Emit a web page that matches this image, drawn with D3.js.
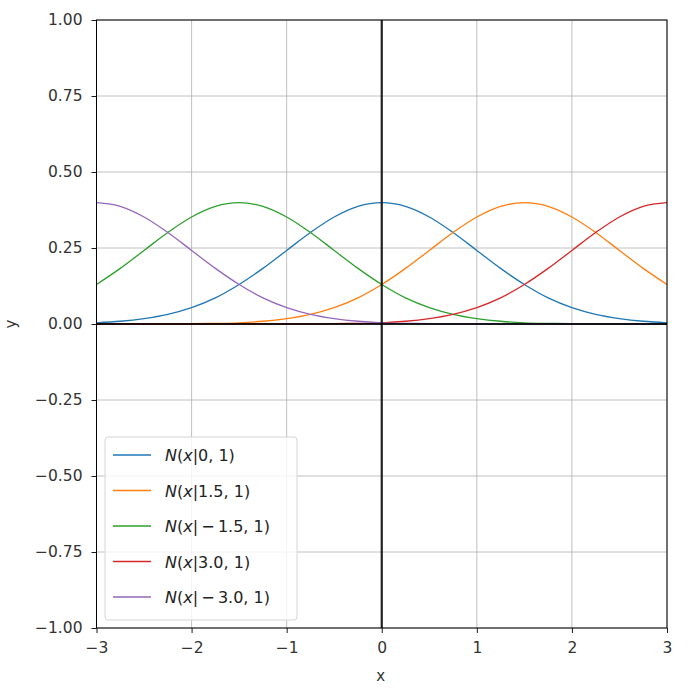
<html>
<head>
<meta charset="utf-8">
<script src="https://cdnjs.cloudflare.com/ajax/libs/d3/7.8.5/d3.min.js"></script>
<style>
  body { margin: 0; background: #fff; }
  text { font-family: "DejaVu Sans", sans-serif; fill: #262626; }
</style>
</head>
<body>
<div id="chart"></div>
<script>
// x positions shared by all curves
var xs = [-3, -2.75, -2.5, -2.25, -2, -1.75, -1.5, -1.25, -1, -0.75, -0.5, -0.25, 0,
          0.25, 0.5, 0.75, 1, 1.25, 1.5, 1.75, 2, 2.25, 2.5, 2.75, 3];

var n0   = [0.004, 0.009, 0.018, 0.032, 0.054, 0.086, 0.130, 0.183, 0.242, 0.301, 0.352, 0.387, 0.399,
            0.387, 0.352, 0.301, 0.242, 0.183, 0.130, 0.086, 0.054, 0.032, 0.018, 0.009, 0.004];
var n15  = [0.000, 0.000, 0.000, 0.000, 0.001, 0.002, 0.004, 0.009, 0.018, 0.032, 0.054, 0.086, 0.130,
            0.183, 0.242, 0.301, 0.352, 0.387, 0.399, 0.387, 0.352, 0.301, 0.242, 0.183, 0.130];
var nm15 = [0.130, 0.183, 0.242, 0.301, 0.352, 0.387, 0.399, 0.387, 0.352, 0.301, 0.242, 0.183, 0.130,
            0.086, 0.054, 0.032, 0.018, 0.009, 0.004, 0.002, 0.001, 0.000, 0.000, 0.000, 0.000];
var n30  = [0.000, 0.000, 0.000, 0.000, 0.000, 0.000, 0.000, 0.000, 0.000, 0.000, 0.001, 0.002, 0.004,
            0.009, 0.018, 0.032, 0.054, 0.086, 0.130, 0.183, 0.242, 0.301, 0.352, 0.387, 0.399];
var nm30 = [0.399, 0.387, 0.352, 0.301, 0.242, 0.183, 0.130, 0.086, 0.054, 0.032, 0.018, 0.009, 0.004,
            0.002, 0.001, 0.000, 0.000, 0.000, 0.000, 0.000, 0.000, 0.000, 0.000, 0.000, 0.000];

var labels = ["|0, 1)", "|1.5, 1)", "|\u2009\u2212\u20091.5, 1)", "|3.0, 1)", "|\u2009\u2212\u20093.0, 1)"];
var colors = ["#1f77b4", "#ff7f0e", "#2ca02c", "#d62728", "#9467bd"];
var series = [n0, n15, nm15, n30, nm30];

var xTicks = [-3, -2, -1, 0, 1, 2, 3];
var yTicks = [-1, -0.75, -0.5, -0.25, 0, 0.25, 0.5, 0.75, 1];

var W = 689, H = 688;
var m = {left: 96.5, top: 20, right: 22, bottom: 60};

var svg = d3.select("#chart").append("svg").attr("width", W).attr("height", H);

var x = d3.scaleLinear().domain([-3, 3]).range([m.left, W - m.right]);
var y = d3.scaleLinear().domain([-1, 1]).range([H - m.bottom, m.top]);

function fmtMinus(s){ return s.replace("-", "\u2212"); }

// grid
svg.append("g").selectAll("line").data(xTicks).enter().append("line")
  .attr("x1", function(d){ return x(d); }).attr("x2", function(d){ return x(d); })
  .attr("y1", y(-1)).attr("y2", y(1))
  .style("stroke", "#b0b0b0").style("stroke-width", 0.8);
svg.append("g").selectAll("line").data(yTicks).enter().append("line")
  .attr("y1", function(d){ return y(d); }).attr("y2", function(d){ return y(d); })
  .attr("x1", x(-3)).attr("x2", x(3))
  .style("stroke", "#b0b0b0").style("stroke-width", 0.8);

// curves
var line = d3.line()
  .x(function(d, i){ return x(xs[i]); })
  .y(function(d){ return y(d); })
  .curve(d3.curveCatmullRom);

svg.append("g").selectAll("path").data(series).enter().append("path")
  .attr("d", line)
  .style("fill", "none")
  .style("stroke", function(d, i){ return colors[i]; })
  .style("stroke-width", 1.3);

// axhline / axvline
svg.append("line").attr("x1", x(-3)).attr("x2", x(3)).attr("y1", y(0)).attr("y2", y(0))
  .style("stroke", "#000").style("stroke-width", 2.2).style("stroke-opacity", 0.85);
svg.append("line").attr("x1", x(0)).attr("x2", x(0)).attr("y1", y(-1)).attr("y2", y(1))
  .style("stroke", "#000").style("stroke-width", 2.2).style("stroke-opacity", 0.85);

// axes
var xAxis = d3.axisBottom(x).tickValues(xTicks).tickSize(5).tickPadding(9)
  .tickFormat(function(d){ return fmtMinus(d3.format("d")(d)); });
var yAxis = d3.axisLeft(y).tickValues(yTicks).tickSize(5).tickPadding(9)
  .tickFormat(function(d){ return fmtMinus(d3.format(".2f")(d)); });

var gx = svg.append("g").attr("transform", "translate(0," + y(-1) + ")").call(xAxis);
var gy = svg.append("g").attr("transform", "translate(" + x(-3) + ",0)").call(yAxis);
[gx, gy].forEach(function(g){
  g.select(".domain").remove();
  g.selectAll("line").style("stroke", "#000").style("stroke-width", 0.9);
  g.selectAll("text").style("font-family", "'DejaVu Sans', sans-serif")
    .style("font-size", "15.5px").style("fill", "#333");
});

// frame
svg.append("rect").attr("x", x(-3)).attr("y", y(1))
  .attr("width", x(3) - x(-3)).attr("height", y(-1) - y(1))
  .style("fill", "none").style("stroke", "#000").style("stroke-width", 1);

// axis labels
svg.append("text").attr("x", x(0) - 1).attr("y", 681).attr("text-anchor", "middle")
  .style("font-size", "15px").style("fill", "#333").text("x");
svg.append("text").attr("transform", "translate(16," + y(0) + ") rotate(-90)")
  .attr("text-anchor", "middle").style("font-size", "15px").style("fill", "#333").text("y");

// legend
var lg = svg.append("g").attr("transform", "translate(105,437)");
lg.append("rect").attr("width", 192).attr("height", 183).attr("rx", 3)
  .style("fill", "#fff").style("fill-opacity", 0.8)
  .style("stroke", "#d5d5d5").style("stroke-width", 1);

var items = lg.selectAll("g.item").data(labels).enter().append("g")
  .attr("transform", function(d, i){ return "translate(0," + (18 + i * 35.5) + ")"; });
items.append("line").attr("x1", 8).attr("x2", 46)
  .style("stroke", function(d, i){ return colors[i]; }).style("stroke-width", 1.4);
var t = items.append("text").attr("x", 60).attr("y", 6)
  .style("font-family", "'DejaVu Sans', sans-serif").style("font-size", "16px").style("fill", "#222");
t.append("tspan").style("font-style", "italic").text("N");
t.append("tspan").text("(");
t.append("tspan").style("font-style", "italic").text("x");
t.append("tspan").text(function(d){ return d; });
</script>
</body>
</html>
